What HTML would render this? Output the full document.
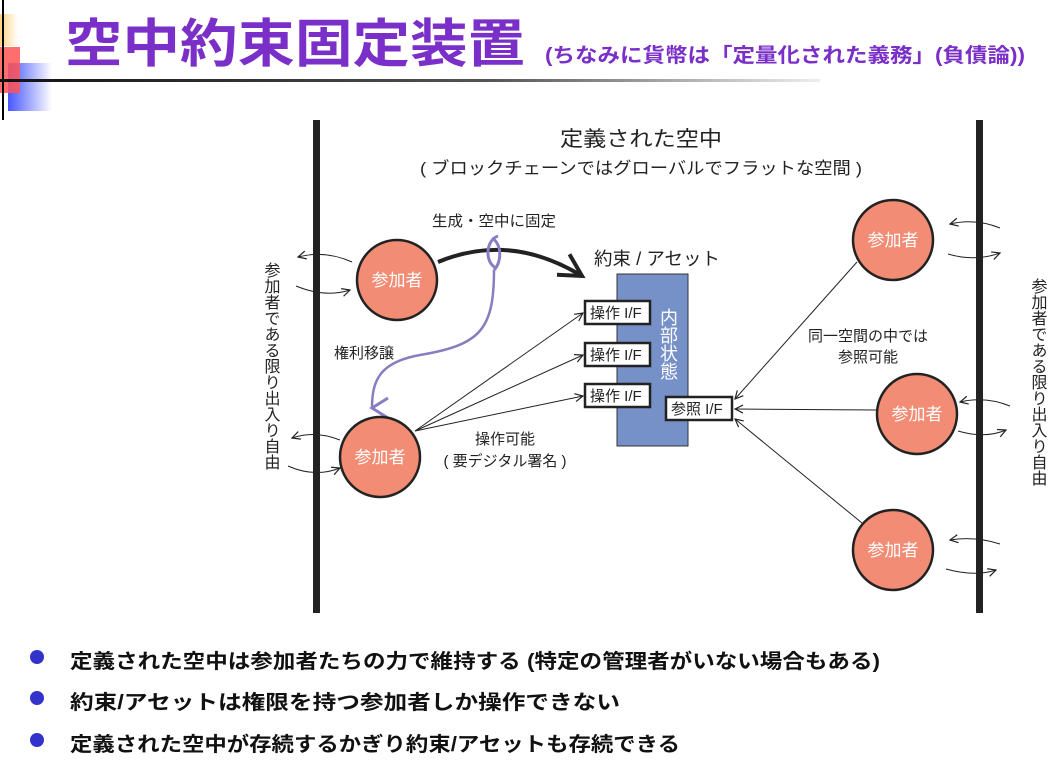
<!DOCTYPE html>
<html><head><meta charset="utf-8"><style>
body{margin:0;background:#fff;}
svg text{font-family:"Liberation Sans","Noto Sans CJK JP",sans-serif;}
</style></head><body>
<svg width="1061" height="773" viewBox="0 0 1061 773" xmlns="http://www.w3.org/2000/svg">
<defs>
<linearGradient id="y" x1="0" x2="1"><stop offset="0" stop-color="#ffd27a"/><stop offset="1" stop-color="#fff"/></linearGradient>
<linearGradient id="b" x1="0" x2="1"><stop offset="0" stop-color="#3344ff"/><stop offset="1" stop-color="#fff"/></linearGradient>
<linearGradient id="l" x1="0" x2="1"><stop offset="0" stop-color="#111"/><stop offset="0.6" stop-color="#555"/><stop offset="1" stop-color="#eee"/></linearGradient>
<marker id="a" markerWidth="10" markerHeight="10" refX="9" refY="5" orient="auto" markerUnits="userSpaceOnUse"><path d="M1,1 L9,5 L1,9" fill="none" stroke="#222" stroke-width="1.2"/></marker>
<marker id="ab" markerWidth="30" markerHeight="30" refX="26" refY="15" orient="auto" markerUnits="userSpaceOnUse"><path d="M4,3 L26,15 L4,27" fill="none" stroke="#222" stroke-width="4"/></marker>
<marker id="ap" markerWidth="24" markerHeight="24" refX="12" refY="20" orient="auto" markerUnits="userSpaceOnUse"><path d="M2,4 L12,20 L22,4" fill="none" stroke="#8a7cc0" stroke-width="3"/></marker>
</defs>
<rect x="0" y="14" width="18" height="32" fill="url(#y)"/>
<rect x="8" y="63" width="44" height="48" fill="url(#b)" opacity="0.9"/>
<rect x="0" y="47" width="20" height="46" fill="#ff5555" opacity="0.85"/>
<line x1="3" y1="0" x2="3" y2="120" stroke="#000" stroke-width="2"/>
<rect x="0" y="79" width="820" height="3" fill="url(#l)"/>
<text x="65" y="62" font-size="52" font-weight="bold" fill="#7a2fc8" textLength="460" lengthAdjust="spacingAndGlyphs">空中約束固定装置</text>
<text x="545" y="62" font-size="20" font-weight="bold" fill="#7a2fc8" textLength="480" lengthAdjust="spacingAndGlyphs">(ちなみに貨幣は「定量化された義務」(負債論))</text>

<rect x="313" y="120" width="7" height="493" fill="#222"/>
<rect x="976" y="120" width="7" height="493" fill="#222"/>

<text x="560" y="146" font-size="21" fill="#222" textLength="162" lengthAdjust="spacingAndGlyphs">定義された空中</text>
<text x="420" y="174" font-size="17" fill="#222" textLength="442" lengthAdjust="spacingAndGlyphs">( ブロックチェーンではグローバルでフラットな空間 )</text>
<text x="432" y="226" font-size="15" fill="#222" textLength="124" lengthAdjust="spacingAndGlyphs">生成・空中に固定</text>
<text x="594" y="265" font-size="18" fill="#222" textLength="126" lengthAdjust="spacingAndGlyphs">約束 / アセット</text>
<text x="334" y="358" font-size="15" fill="#222">権利移譲</text>
<text x="505" y="444" font-size="15" text-anchor="middle" fill="#222">操作可能</text>
<text x="505" y="466" font-size="15" text-anchor="middle" fill="#222">( 要デジタル署名 )</text>
<text x="868" y="341" font-size="15" text-anchor="middle" fill="#222">同一空間の中では</text>
<text x="868" y="362" font-size="15" text-anchor="middle" fill="#222">参照可能</text>
<text x="270" y="262" font-size="16" fill="#222" style="writing-mode:vertical-rl">参加者である限り出入り自由</text>
<text x="1037" y="278" font-size="16" fill="#222" style="writing-mode:vertical-rl">参加者である限り出入り自由</text>

<rect x="617" y="274" width="71" height="172" fill="#7690c8" stroke="#333" stroke-width="1"/>
<text x="668" y="308" font-size="18" fill="#fff" style="writing-mode:vertical-rl">内部状態</text>
<g font-size="15" fill="#222" stroke-width="2.5">
<rect x="585" y="301" width="65" height="23" fill="#fff" stroke="#222"/><text x="590" y="318" stroke="none">操作 I/F</text>
<rect x="585" y="343" width="65" height="23" fill="#fff" stroke="#222"/><text x="590" y="360" stroke="none">操作 I/F</text>
<rect x="585" y="384" width="65" height="23" fill="#fff" stroke="#222"/><text x="590" y="401" stroke="none">操作 I/F</text>
<rect x="666" y="397" width="66" height="23" fill="#fff" stroke="#222"/><text x="671" y="414" stroke="none">参照 I/F</text>
</g>

<g stroke="#222" stroke-width="1" fill="none" marker-end="url(#a)">
<line x1="415" y1="431" x2="583" y2="313"/>
<line x1="415" y1="431" x2="583" y2="355"/>
<line x1="415" y1="431" x2="583" y2="396"/>
<line x1="857" y1="262" x2="735" y2="399"/>
<line x1="877" y1="410" x2="735" y2="409"/>
<line x1="862" y1="523" x2="735" y2="419"/>
</g>

<path d="M438,262 Q510,232 582,276" fill="none" stroke="#222" stroke-width="4" marker-end="url(#ab)"/>
<path d="M494,270 C494,330 480,345 420,355 C380,362 372,380 372,408" fill="none" stroke="#8a7cc0" stroke-width="2.5" marker-end="url(#ap)"/>
<path d="M498,236 C486,240 484,262 496,268" fill="none" stroke="#8a7cc0" stroke-width="3"/>
<path d="M492,238 C502,244 502,262 494,270" fill="none" stroke="#8a7cc0" stroke-width="3"/>

<g fill="#f28c74" stroke="#222" stroke-width="2.5">
<circle cx="397" cy="280" r="40"/><circle cx="380" cy="457" r="40"/>
<circle cx="893" cy="240" r="40"/><circle cx="917" cy="414" r="40"/><circle cx="893" cy="550" r="40"/>
</g>
<g font-size="17" fill="#fff" text-anchor="middle">
<text x="397" y="286">参加者</text><text x="380" y="463">参加者</text>
<text x="893" y="246">参加者</text><text x="917" y="420">参加者</text><text x="893" y="556">参加者</text>
</g>

<g stroke="#222" stroke-width="1" fill="none" marker-end="url(#a)">
<path d="M352,262 Q325,250 298,257"/><path d="M296,286 Q325,298 350,290"/>
<path d="M340,440 Q315,430 292,438"/><path d="M288,466 Q315,478 340,468"/>
<path d="M1000,228 Q975,218 950,224"/><path d="M948,254 Q975,262 1000,253"/>
<path d="M1010,406 Q985,396 960,402"/><path d="M958,431 Q985,439 1006,430"/>
<path d="M1000,544 Q975,536 950,540"/><path d="M946,569 Q975,577 996,570"/>
</g>

<g fill="#3333cc"><circle cx="37" cy="657" r="7"/><circle cx="37" cy="698" r="7"/><circle cx="37" cy="740" r="7"/></g>
<g font-size="20" font-weight="bold" fill="#111">
<text x="70" y="668" textLength="810" lengthAdjust="spacingAndGlyphs">定義された空中は参加者たちの力で維持する (特定の管理者がいない場合もある)</text>
<text x="70" y="709" textLength="550" lengthAdjust="spacingAndGlyphs">約束/アセットは権限を持つ参加者しか操作できない</text>
<text x="70" y="751" textLength="610" lengthAdjust="spacingAndGlyphs">定義された空中が存続するかぎり約束/アセットも存続できる</text>
</g>
</svg>
</body></html>
